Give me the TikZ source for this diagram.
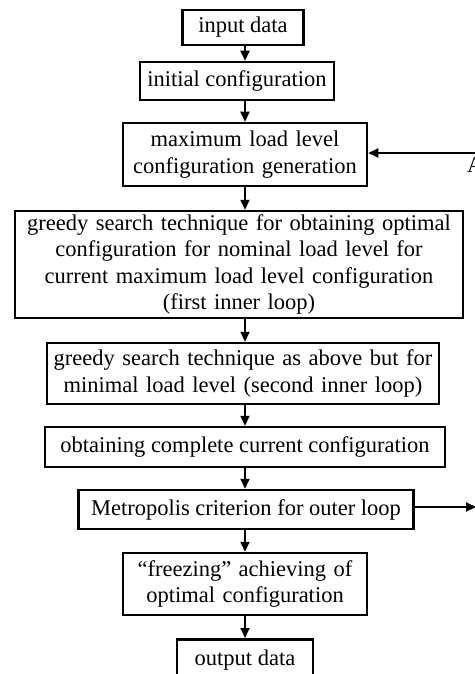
\documentclass[tikz,border=0pt]{standalone}
\usepackage{fontspec}
\setmainfont{Liberation Serif}
\usetikzlibrary{arrows.meta}

\begin{document}
\begin{tikzpicture}[x=1pt,y=-1pt,
  stage/.style={draw,line width=2.5pt,align=center,inner xsep=3pt,inner ysep=1pt,
    font=\fontsize{22.5}{26.5}\selectfont},
  flow/.style={line width=2pt,-{Triangle[length=10pt,width=9pt]}}]
  \useasboundingbox (0,0) rectangle (474,674);
  \coordinate (col) at (245,0);

  % main column
  \node[stage,minimum width=121pt,minimum height=35pt] (input) at (243,27.5) {input data};
  \node[stage,minimum width=194pt,minimum height=38pt] (initial) at (237,81) {initial configuration};
  \node[stage,text width=238pt,minimum height=63pt] (maxload) at (245,154.5)
    {maximum load level\\configuration generation};
  \node[stage,text width=442pt,minimum height=107pt] (inner1) at (239,264.5)
    {greedy search technique for obtaining optimal\\configuration for nominal load level for\\current maximum load level configuration\\(first inner loop)};
  \node[stage,text width=386pt,minimum height=61pt] (inner2) at (243,373.5)
    {greedy search technique as above but for\\minimal load level (second inner loop)};
  \node[stage,minimum width=400pt,minimum height=40pt] (complete) at (245,447)
    {obtaining complete current configuration};
  \node[stage,minimum width=335pt,minimum height=39pt] (metro) at (246,509.5)
    {Metropolis criterion for outer loop};
  \node[stage,text width=238pt,minimum height=62pt] (freeze) at (245,584)
    {“freezing” achieving of\\optimal configuration};
  \node[stage,minimum width=136pt,minimum height=42pt,anchor=north] (output) at (245,638)
    {output data};

  \foreach \a/\b in {input/initial,initial/maxload,maxload/inner1,inner1/inner2,
                     inner2/complete,complete/metro,metro/freeze,freeze/output}
    \draw[flow] (\a.south -| col) -- (\b.north -| col);

  % outer loop
  \coordinate (fromA) at (476,153);
  \coordinate (toA) at (476,507);
  \node[font=\fontsize{22.5}{26.5}\selectfont,anchor=north west,inner sep=0pt] (labA) at (467,157) {A};
  \draw[flow] (fromA) -- (maxload.east |- fromA);
  \draw[flow] (metro.east |- toA) -- (toA);
\end{tikzpicture}
\end{document}
